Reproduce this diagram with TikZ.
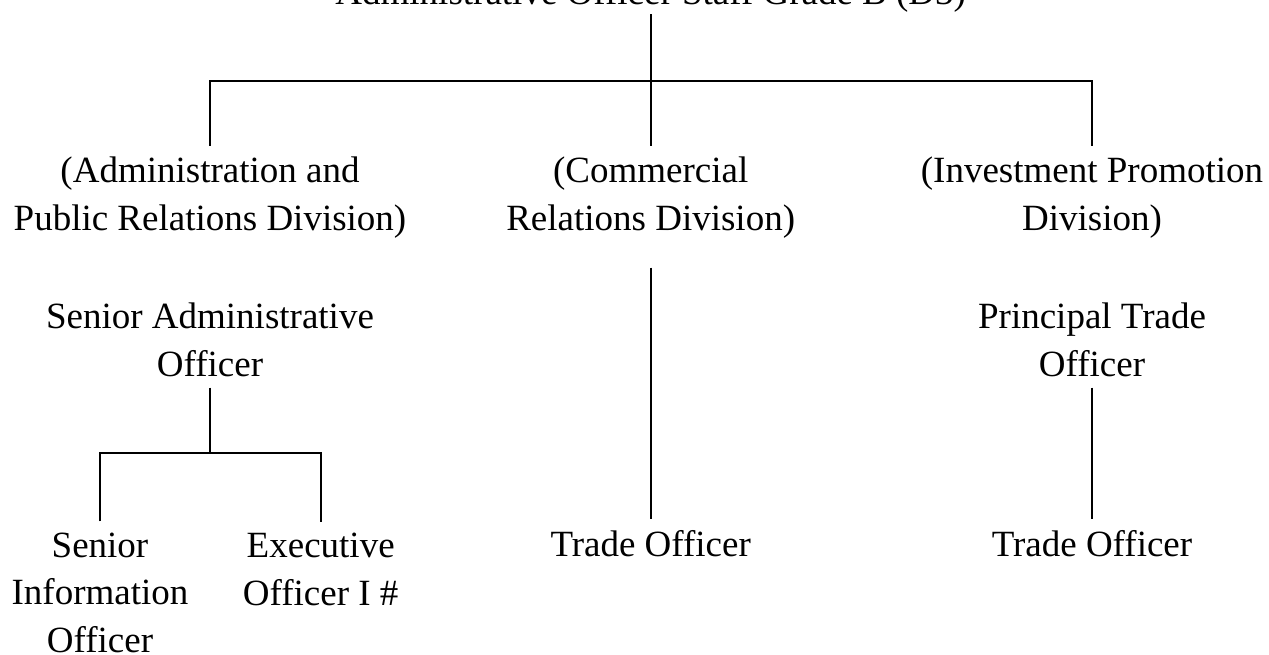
\documentclass[tikz,border=0pt]{standalone}
\usepackage{fontspec}
\setmainfont{Liberation Serif}
\usepackage{tikz}
\usetikzlibrary{positioning}
\tikzset{
  post/.style={align=center, inner sep=11pt, anchor=base, font=\fontsize{37}{47.6}\selectfont},
  link/.style={line width=2pt}
}
\begin{document}
\begin{tikzpicture}[x=1pt, y=-1pt]
\useasboundingbox (0,0) rectangle (1269,655);
\node[post, inner sep=1pt](Dir) at (650.7,5) {Administrative Officer Staff Grade B (D3)};
\coordinate (Jtop) at (650.7,80.7);

\node[post](AdmDiv) at (210,230) {(Administration and\\Public Relations Division)};
\node[post](ComDiv) at (650.7,230) {(Commercial\\Relations Division)};
\node[post](InvDiv) at (1092,230) {(Investment Promotion\\Division)};
	\draw[link] (Dir) to (ComDiv);
	\draw[link] (AdmDiv.north) |- (Jtop) -| (InvDiv.north);

\node[post](SAO) at (210,376) {Senior Administrative\\Officer};
\coordinate (Jsao) at (210,452.7);
\node[post, inner sep=1pt](SIO) at (100,652.3) {Senior\\Information\\Officer};
\node[post](EO) at (320.7,605) {Executive\\Officer I \#};
	\draw[link] (SAO) to (Jsao);
	\draw[link, shorten <=10pt] (SIO.north) |- (Jsao) -| (EO.north);

\node[post](ComTO) at (650.7,556.7) {Trade Officer};
	\draw[link, shorten <=18.5pt] (ComDiv) to (ComTO);

\node[post](PTO) at (1092,376) {Principal Trade\\Officer};
\node[post](InvTO) at (1092,556.7) {Trade Officer};
	\draw[link] (PTO) to (InvTO);
\end{tikzpicture}
\end{document}
